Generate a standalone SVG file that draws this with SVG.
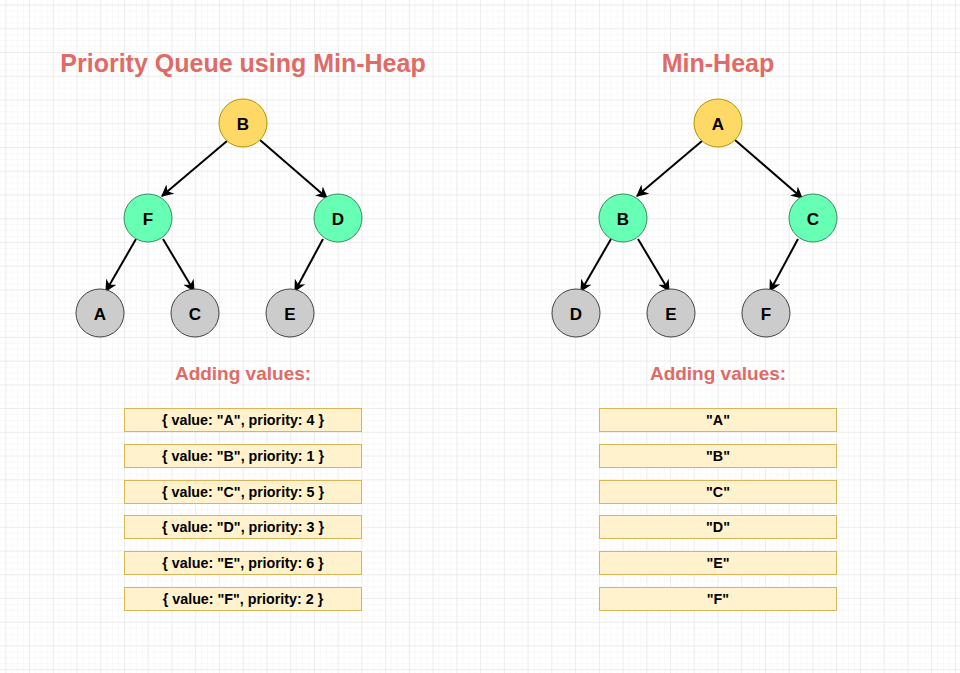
<svg xmlns="http://www.w3.org/2000/svg" width="960" height="673" viewBox="0 0 960 673">
<defs>
<pattern id="minor" x="5.3" y="4.5" width="5.935" height="5.935" patternUnits="userSpaceOnUse">
<path d="M0 0H5.935M0 0V5.935" fill="none" stroke="#f4f4f4" stroke-width="1"/>
</pattern>
<pattern id="major" x="5.3" y="4.5" width="23.74" height="23.74" patternUnits="userSpaceOnUse">
<path d="M0 0H23.74M0 0V23.74" fill="none" stroke="#e1e1e1" stroke-width="1"/>
</pattern>
<marker id="arr" viewBox="0 0 10 10" refX="9" refY="5" markerWidth="12" markerHeight="12" markerUnits="userSpaceOnUse" orient="auto">
<path d="M0 0L10 5L0 10L3 5Z" fill="#000"/>
</marker>
</defs>
<style>
.title{font-family:"Liberation Sans",Arial,sans-serif;font-weight:bold;font-size:25px;fill:#E06B66;text-anchor:middle}
.sub{font-family:"Liberation Sans",Arial,sans-serif;font-weight:bold;font-size:19px;fill:#E06B66;text-anchor:middle}
.lbl{font-family:"Liberation Sans",Arial,sans-serif;font-weight:bold;font-size:17px;fill:#000;text-anchor:middle;dominant-baseline:central}
.box{fill:#FFF2CC;stroke:#D6B656;stroke-width:1}
.btxt{font-family:"Liberation Sans",Arial,sans-serif;font-weight:bold;font-size:14.3px;fill:#000;text-anchor:middle;dominant-baseline:central}
.root{fill:#FFD966;stroke:#B09500;stroke-width:1}
.mid{fill:#66FFB3;stroke:#3A8C5C;stroke-width:1}
.leaf{fill:#CCCCCC;stroke:#444;stroke-width:1}
.edge{stroke:#000;stroke-width:2;fill:none;marker-end:url(#arr)}
</style>
<rect width="960" height="673" fill="#fff"/>
<rect width="960" height="673" fill="url(#minor)"/>
<rect width="960" height="673" fill="url(#major)"/>

<text class="title" x="243" y="72">Priority Queue using Min-Heap</text>
<text class="title" x="718" y="72">Min-Heap</text>

<g id="connectors">
<line class="edge" x1="227" y1="141" x2="162" y2="196"/>
<line class="edge" x1="260" y1="140" x2="327" y2="198"/>
<line class="edge" x1="136" y1="239" x2="106" y2="291"/>
<line class="edge" x1="163" y1="239" x2="194" y2="291"/>
<line class="edge" x1="323" y1="239" x2="295" y2="291"/>
<line class="edge" x1="702" y1="141" x2="637" y2="196"/>
<line class="edge" x1="735" y1="140" x2="802" y2="198"/>
<line class="edge" x1="611" y1="239" x2="581" y2="291"/>
<line class="edge" x1="638" y1="239" x2="669" y2="291"/>
<line class="edge" x1="798" y1="239" x2="770" y2="291"/>
</g>

<g id="L-B"><circle class="root" cx="243" cy="123" r="24"/><text class="lbl" x="243" y="124">B</text></g>
<g id="L-F"><circle class="mid" cx="148" cy="218" r="24"/><text class="lbl" x="148" y="219">F</text></g>
<g id="L-D"><circle class="mid" cx="338" cy="218" r="24"/><text class="lbl" x="338" y="219">D</text></g>
<g id="L-A"><circle class="leaf" cx="100" cy="313" r="24"/><text class="lbl" x="100" y="314">A</text></g>
<g id="L-C"><circle class="leaf" cx="195" cy="313" r="24"/><text class="lbl" x="195" y="314">C</text></g>
<g id="L-E"><circle class="leaf" cx="290" cy="313" r="24"/><text class="lbl" x="290" y="314">E</text></g>

<g id="R-A"><circle class="root" cx="718" cy="123" r="24"/><text class="lbl" x="718" y="124">A</text></g>
<g id="R-B"><circle class="mid" cx="623" cy="218" r="24"/><text class="lbl" x="623" y="219">B</text></g>
<g id="R-C"><circle class="mid" cx="813" cy="218" r="24"/><text class="lbl" x="813" y="219">C</text></g>
<g id="R-D"><circle class="leaf" cx="576" cy="313" r="24"/><text class="lbl" x="576" y="314">D</text></g>
<g id="R-E"><circle class="leaf" cx="671" cy="313" r="24"/><text class="lbl" x="671" y="314">E</text></g>
<g id="R-F"><circle class="leaf" cx="766" cy="313" r="24"/><text class="lbl" x="766" y="314">F</text></g>

<text class="sub" x="243" y="380">Adding values:</text>
<text class="sub" x="718" y="380">Adding values:</text>

<g id="L-list">
<rect class="box" x="124.5" y="408.5" width="237" height="23"/><text class="btxt" x="243" y="420">{ value: "A", priority: 4 }</text>
<rect class="box" x="124.5" y="444.5" width="237" height="23"/><text class="btxt" x="243" y="456">{ value: "B", priority: 1 }</text>
<rect class="box" x="124.5" y="480.5" width="237" height="23"/><text class="btxt" x="243" y="492">{ value: "C", priority: 5 }</text>
<rect class="box" x="124.5" y="515.5" width="237" height="23"/><text class="btxt" x="243" y="527">{ value: "D", priority: 3 }</text>
<rect class="box" x="124.5" y="551.5" width="237" height="23"/><text class="btxt" x="243" y="563">{ value: "E", priority: 6 }</text>
<rect class="box" x="124.5" y="587.5" width="237" height="23"/><text class="btxt" x="243" y="599">{ value: "F", priority: 2 }</text>
</g>
<g id="R-list">
<rect class="box" x="599.5" y="408.5" width="237" height="23"/><text class="btxt" x="718" y="420">"A"</text>
<rect class="box" x="599.5" y="444.5" width="237" height="23"/><text class="btxt" x="718" y="456">"B"</text>
<rect class="box" x="599.5" y="480.5" width="237" height="23"/><text class="btxt" x="718" y="492">"C"</text>
<rect class="box" x="599.5" y="515.5" width="237" height="23"/><text class="btxt" x="718" y="527">"D"</text>
<rect class="box" x="599.5" y="551.5" width="237" height="23"/><text class="btxt" x="718" y="563">"E"</text>
<rect class="box" x="599.5" y="587.5" width="237" height="23"/><text class="btxt" x="718" y="599">"F"</text>
</g>
</svg>
